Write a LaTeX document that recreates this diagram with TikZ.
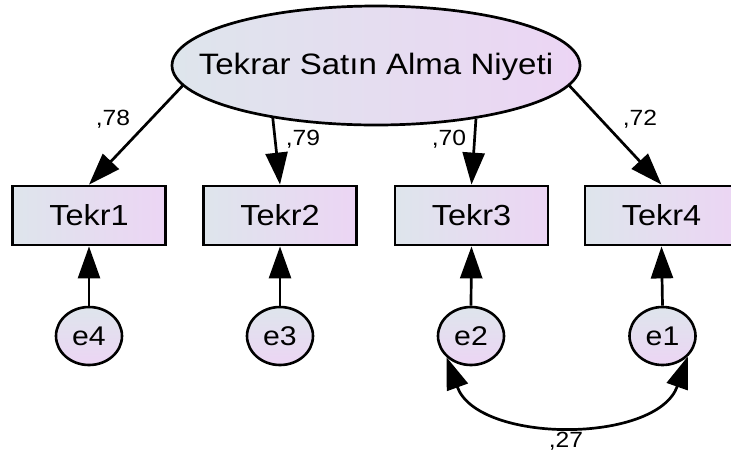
\documentclass[tikz,border=0pt]{standalone}
\usepackage{fontspec}
\setmainfont{Liberation Sans}[FakeStretch=1.12]
\usetikzlibrary{arrows.meta,shapes.geometric}
\definecolor{cA}{RGB}{222,229,236}
\definecolor{cB}{RGB}{236,213,244}
\tikzset{
  latent/.style={ellipse, draw, line width=2.7pt, minimum width=408pt, minimum height=119pt, inner sep=0pt, left color=cA, right color=cB},
  obs/.style={rectangle, draw, line width=2.8pt, minimum width=153pt, minimum height=59pt, inner sep=0pt, left color=cA, right color=cB, font=\fontsize{29}{31}\selectfont},
  err/.style={ellipse, draw, line width=2.6pt, minimum width=66pt, minimum height=58pt, inner sep=0pt, top color=cA, bottom color=cB, font=\fontsize{27}{29}\selectfont},
  lbl/.style={inner sep=0pt, font=\fontsize{22}{24}\selectfont},
  arr/.style={line width=2.7pt, -{Triangle[length=32pt,width=22pt]}},
  dbl/.style={line width=2.7pt, {Triangle[length=32pt,width=22pt]}-{Triangle[length=32pt,width=22pt]}},
}
\begin{document}
\begin{tikzpicture}[x=1pt,y=-1pt]
\useasboundingbox[fill=white] (0,0) rectangle (731,459);
\node[latent] (L) at (376,65.5) {};
\node[inner sep=0pt, font=\fontsize{29.5}{31}\selectfont] (Lt) at (376,67) {Tekrar Satın Alma Niyeti};
\node[obs] (T1) at (89,215.5) {Tekr1};
\node[obs] (T2) at (280,215.5) {Tekr2};
\node[obs] (T3) at (471.5,215.5) {Tekr3};
\node[obs] (T4) at (661.5,215.5) {Tekr4};
\node[err] (e4) at (89,336) {e4};
\node[err] (e3) at (280,336) {e3};
\node[err] (e2) at (471,336) {e2};
\node[err] (e1) at (662.5,336) {e1};
\draw[arr] (L.186) -- (T1.north);
\draw[arr] (L.207.5) -- (T2.north);
\draw[arr] (L.332.4) -- (T3.north);
\draw[arr] (L.354) -- (T4.north);
\draw[arr] (e4.north) -- (T1.south);
\draw[arr] (e3.north) -- (T2.south);
\draw[arr] (e2.north) -- (T3.south);
\draw[arr] (e1.north) -- (T4.south);
\draw[dbl] (e2.221) .. controls (478,444) and (657,444) .. (e1.321);
\node[lbl] (l1) at (113,119) {,78};
\node[lbl] (l2) at (303,139) {,79};
\node[lbl] (l3) at (449,139) {,70};
\node[lbl] (l4) at (640,119) {,72};
\node[lbl] (l5) at (566,441) {,27};
\end{tikzpicture}
\end{document}
